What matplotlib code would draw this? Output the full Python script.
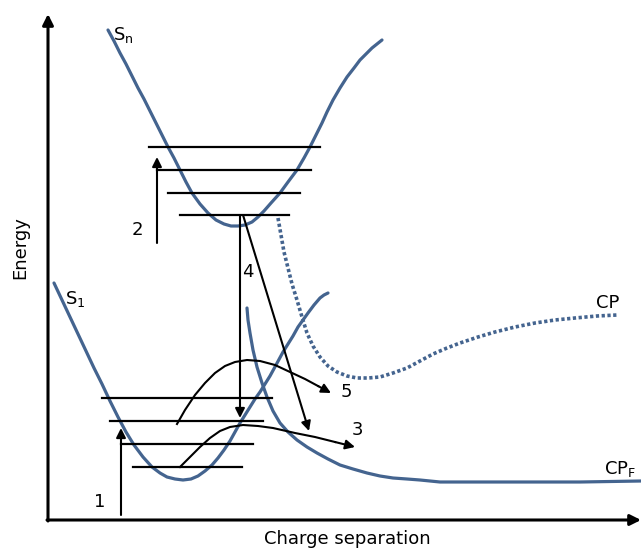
#!/usr/bin/env python3
"""Energy vs charge separation schematic (S1, Sn, CP, CP_F surfaces)."""
import matplotlib.pyplot as plt

BLUE = '#44648f'

# curves (x, y in image pixels, y downwards)
sn_x = [108, 114, 120, 126, 132, 138, 144, 150, 156, 162, 168, 174, 180, 186,
        192, 200, 208, 216, 224, 231, 238, 245, 252, 258, 264, 271, 280, 288,
        297, 304, 310, 316, 322, 327, 333, 340, 347, 354, 360, 366, 372, 377, 382]
sn_y = [30, 41, 53, 64, 76, 88, 99, 111, 123, 135, 147, 158, 170, 182,
        193, 204, 213, 220, 224, 226, 226, 225, 222, 217, 211, 203, 193, 182,
        170, 158, 147, 135, 123, 112, 100, 88, 77, 68, 60, 54, 48, 44, 40]

s1_x = [54, 62, 70, 78, 86, 94, 102, 110, 118, 126, 134, 143,
        152, 160, 167, 175, 183, 191, 198, 205, 212, 218, 224, 230, 235, 240,
        245, 250, 255, 260, 265, 270, 276, 283, 288, 293, 298, 303, 308, 314,
        320, 324, 328]
s1_y = [283, 300, 317, 334, 351, 368, 384, 401, 417, 432, 445, 457,
        467, 473, 477, 479, 480, 479, 476, 471, 465, 458, 450, 441, 432, 423,
        415, 407, 399, 392, 384, 376, 365, 352, 344, 336, 327, 320, 313, 305,
        298, 295, 293]

cpf_x = [247, 248, 250, 253, 257, 262, 267, 273, 280, 288, 297, 307, 317, 328,
         340, 353, 367, 380, 393, 407, 420, 440, 470, 520, 580, 641]
cpf_y = [308, 320, 333, 350, 367, 383, 397, 411, 423, 432, 440, 447, 453, 459,
         465, 469, 473, 476, 478, 479, 480, 482, 482, 482, 482, 481]

cp_x = [278, 281, 284, 288, 292, 297, 302, 307, 313, 320, 328, 337, 347, 357,
        368, 380, 393, 407, 420, 433, 447, 460, 478, 495, 515, 535, 555, 575,
        597, 617]
cp_y = [218, 235, 252, 268, 284, 300, 317, 333, 346, 357, 366, 372, 376, 378,
        378, 377, 373, 368, 361, 354, 348, 343, 337, 332, 327, 323, 320, 318,
        316, 315]

# vibrational levels: (y, x_start, x_end)
sn_levels = [(147, 149, 320), (170, 157, 311), (193, 168, 300), (215, 180, 289)]
s1_levels = [(398, 102, 272), (421, 110, 263), (444, 121, 253), (467, 133, 242)]

# curved transfer arrows
arc5_x = [177, 185, 195, 205, 215, 225, 235, 247, 260, 275, 290, 305, 318, 331]
arc5_y = [424, 410, 395, 383, 373, 366, 362, 360, 361, 365, 372, 379, 386, 393]
arc3_x = [180, 190, 200, 210, 220, 230, 243, 258, 273, 295, 315, 335, 355]
arc3_y = [467, 457, 447, 438, 431, 427, 425, 426, 428, 433, 437, 442, 447]

# straight arrows: (tail, head)
arrows = [((121, 515), (121, 428)),   # 1
          ((157, 243), (157, 157)),   # 2
          ((240, 215), (240, 418)),   # 4
          ((243, 215), (309, 431))]   # diagonal to CP_F

numbers = [('1', 100, 502), ('2', 137, 230), ('4', 248, 272),
           ('5', 346, 392), ('3', 357, 430)]

fig = plt.figure(figsize=(6.41, 5.49), dpi=100)
ax = fig.add_axes([0, 0, 1, 1])
ax.set_xlim(0, 641)
ax.set_ylim(549, 0)
ax.axis('off')

head = dict(arrowstyle='-|>', color='black', lw=1.5, mutation_scale=14,
            shrinkA=0, shrinkB=0)

# axes with arrowheads
ax.annotate('', xy=(48, 14), xytext=(48, 521),
            arrowprops=dict(head, lw=2.2, mutation_scale=16))
ax.annotate('', xy=(641, 520), xytext=(47, 520),
            arrowprops=dict(head, lw=2.2, mutation_scale=16))

# potential curves
for xs, ys in [(sn_x, sn_y), (s1_x, s1_y), (cpf_x, cpf_y)]:
    ax.plot(xs, ys, color=BLUE, lw=2.3, solid_capstyle='round',
            solid_joinstyle='round')
ax.plot(cp_x, cp_y, color=BLUE, lw=2.6, linestyle=(0, (0.9, 0.7)))

for y, x0, x1 in sn_levels + s1_levels:
    ax.plot([x0, x1], [y, y], color='black', lw=1.6)

for tail, tip in arrows:
    ax.annotate('', xy=tip, xytext=tail, arrowprops=head)

for xs, ys in [(arc5_x, arc5_y), (arc3_x, arc3_y)]:
    ax.plot(xs[:-1], ys[:-1], color='black', lw=1.5, solid_joinstyle='round')
    ax.annotate('', xy=(xs[-1], ys[-1]), xytext=(xs[-2], ys[-2]), arrowprops=head)

fs = 13
for txt, x, y in numbers:
    ax.text(x, y, txt, fontsize=fs, ha='center', va='center')

ax.text(113, 35, r'S$_{\mathrm{n}}$', fontsize=fs, ha='left', va='center')
ax.text(65, 299, r'S$_{\mathrm{1}}$', fontsize=fs, ha='left', va='center')
ax.text(596, 303, 'CP', fontsize=fs, ha='left', va='center')
ax.text(604, 469, r'CP$_{\mathrm{F}}$', fontsize=fs, ha='left', va='center')

ax.text(20, 248, 'Energy', fontsize=fs, rotation=90, ha='center', va='center')
ax.text(347, 539, 'Charge separation', fontsize=fs, ha='center', va='center')

plt.savefig('out.png', dpi=100)
plt.close()
